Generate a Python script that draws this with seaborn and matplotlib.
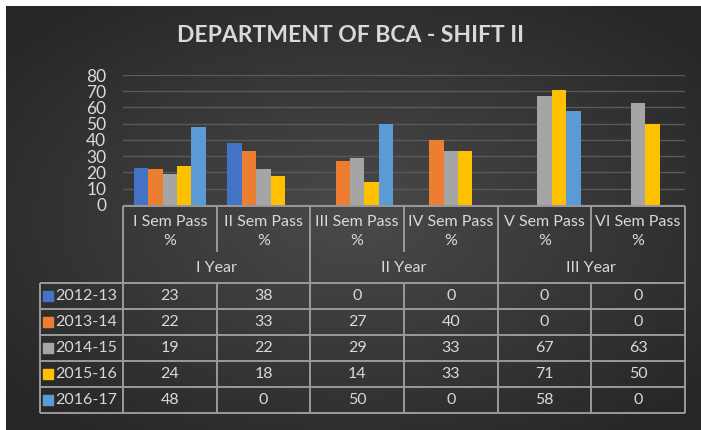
import numpy as np
import pandas as pd
import matplotlib
matplotlib.use("Agg")
import matplotlib.pyplot as plt
import seaborn as sns

# Chart data
semesters = ["I Sem Pass %", "II Sem Pass %", "III Sem Pass %",
             "IV Sem Pass %", "V Sem Pass %", "VI Sem Pass %"]
sem_labels = ["I Sem Pass\n%", "II Sem Pass\n%", "III Sem Pass\n%",
              "IV Sem Pass\n%", "V Sem Pass\n%", "VI Sem Pass\n%"]
years = ["I Year", "II Year", "III Year"]
sessions = ["2012-13", "2013-14", "2014-15", "2015-16", "2016-17"]
pass_2012_13 = [23, 38, 0, 0, 0, 0]
pass_2013_14 = [22, 33, 27, 40, 0, 0]
pass_2014_15 = [19, 22, 29, 33, 67, 63]
pass_2015_16 = [24, 18, 14, 33, 71, 50]
pass_2016_17 = [48, 0, 50, 0, 58, 0]
series_values = [pass_2012_13, pass_2013_14, pass_2014_15, pass_2015_16, pass_2016_17]
colors = ["#4472C4", "#ED7D31", "#A5A5A5", "#FFC000", "#5B9BD5"]

rows = []
for s, vals in zip(sessions, series_values):
    for sem, v in zip(semesters, vals):
        rows.append({"sem": sem, "session": s, "pass": v})
df = pd.DataFrame(rows)

sns.set_theme(style="white")
plt.rcParams["font.family"] = ["Lato", "DejaVu Sans"]
TXT = "#d9d9d9"
LINE = "#9a9a9a"
FS = 11.5

W, H = 701, 430
fig = plt.figure(figsize=(W / 100, H / 100), dpi=100)
fig.patch.set_facecolor("white")

# dark radial gradient background
bg = fig.add_axes([6 / W, 0, (W - 6) / W, (H - 6) / H])
yy, xx = np.mgrid[0:1:300j, 0:1:500j]
r = np.sqrt(((xx - 0.5) / 0.75) ** 2 + ((yy - 0.5) / 0.75) ** 2)
shade = np.clip(0.29 - 0.16 * r, 0.15, 0.3)
bg.imshow(np.dstack([shade] * 3), aspect="auto", extent=[0, 1, 0, 1])
bg.axis("off")

# bar chart
ax = fig.add_axes([123 / W, 1 - 205 / H, 562 / W, 130 / H])
ax.set_facecolor("none")
sns.barplot(data=df, x="sem", y="pass", hue="session", order=semesters,
            hue_order=sessions, palette=colors, width=0.77, saturation=1,
            linewidth=0, legend=False, ax=ax, zorder=3)
ax.set_xlim(-0.5, len(semesters) - 0.5)
ax.set_ylim(0, 80)
ax.set_yticks(range(0, 81, 10))
ax.yaxis.grid(True, color="#5a5a5a", linewidth=1)
ax.set_axisbelow(True)
ax.set_xticks([])
ax.set_xlabel("")
ax.set_ylabel("")
ax.tick_params(axis="y", length=0, pad=12, labelcolor=TXT, labelsize=12.5)
for sp in ax.spines.values():
    sp.set_visible(False)

fig.text(351 / W, 1 - 35 / H, "DEPARTMENT OF BCA - SHIFT II", ha="center",
         va="center", color=TXT, fontsize=16.5, fontweight="bold")

# data table below the chart
col_w = 562 / 6
lead = -83 / col_w
hdr = 77 / 26
n_rows = len(sessions)
tb = fig.add_axes([40 / W, 1 - 413 / H, 645 / W, 207 / H])
tb.set_facecolor("none")
tb.set_xlim(lead, len(semesters))
tb.set_ylim(hdr + n_rows, 0)
tb.axis("off")
lkw = dict(color=LINE, linewidth=1.4, clip_on=False)

tb.hlines(0, 0, len(semesters), **lkw)
tb.hlines([hdr + j for j in range(n_rows + 1)], lead, len(semesters), **lkw)
for i in range(len(semesters) + 1):
    if i % 2 == 0:
        tb.vlines(i, 0, hdr + n_rows, **lkw)
    else:
        tb.vlines(i, 0, 1.77, **lkw)
        tb.vlines(i, hdr, hdr + n_rows, **lkw)
tb.vlines(lead, hdr, hdr + n_rows, **lkw)

for i, lab in enumerate(sem_labels):
    top, bottom = lab.split("\n")
    tb.text(i + 0.5, 0.62, top, ha="center", va="center", color=TXT, fontsize=FS)
    tb.text(i + 0.5, 1.35, bottom, ha="center", va="center", color=TXT, fontsize=FS)
for k, yr in enumerate(years):
    tb.text(2 * k + 1, 2.38, yr, ha="center", va="center", color=TXT, fontsize=FS)

for j, (s, vals, c) in enumerate(zip(sessions, series_values, colors)):
    yc = hdr + j + 0.5
    tb.scatter([lead + 0.09], [yc], marker="s", s=44, color=c, clip_on=False)
    tb.text(lead + 0.165, yc, s, ha="left", va="center", color=TXT, fontsize=FS)
    for i, v in enumerate(vals):
        tb.text(i + 0.5, yc, str(v), ha="center", va="center", color=TXT, fontsize=FS)

fig.savefig("out.png", dpi=100)
